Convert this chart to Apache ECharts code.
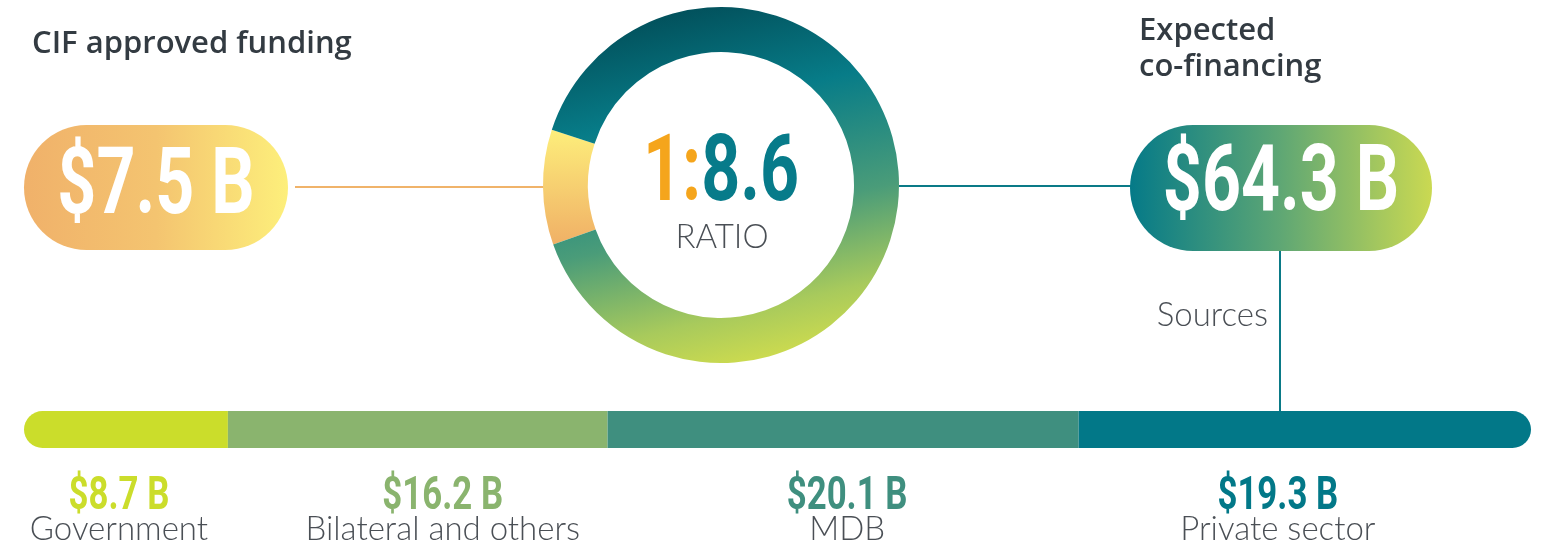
<!DOCTYPE html>
<html>
<head>
<meta charset="utf-8">
<script src="https://cdn.jsdelivr.net/npm/echarts@6/dist/echarts.min.js"></script>
<style>
  html, body { margin: 0; padding: 0; background: #fff; }
  #chart { width: 1550px; height: 546px; }
</style>
</head>
<body>
<div id="chart"></div>
<script>
// CIF funding vs expected co-financing (billions USD)
const cifFunding = 7.5;
const coFinancing = 64.3;
const ratioText = '8.6';
const sourceNames = ['Government', 'Bilateral and others', 'MDB', 'Private sector'];
const sourceValues = [8.7, 16.2, 20.1, 19.3];
const sourceColors = ['#cbdd2b', '#8ab46e', '#3f8f7f', '#027888'];

var dom = document.querySelector('#chart');
var myChart = echarts.init(dom);

var total = sourceValues.reduce((a, b) => a + b, 0);
var starts = [];
var acc = 0;
sourceValues.forEach(v => { starts.push(acc); acc += v; });
// label nudges, the reference doesn't centre every label on its segment
var labelShift = [-7, 25, 4, -27];

var condensed = 0.74;
var bigFont = 'bold 92px Roboto';
var lightFont = '300 33px Lato';
var titleFont = '600 31px "Open Sans"';

var barSeries = sourceValues.map((v, i) => ({
    type: 'bar',
    name: sourceNames[i],
    stack: 'src',
    barWidth: 37,
    silent: true,
    itemStyle: {
        color: sourceColors[i],
        borderRadius: i === 0 ? [19, 0, 0, 19] : (i === sourceValues.length - 1 ? [0, 19, 19, 0] : 0)
    },
    data: [v]
}));

const option = {
    animation: false,
    grid: { left: 24, right: 19, top: 411, height: 37 },
    xAxis: { type: 'value', min: 0, max: total, show: false },
    yAxis: { type: 'category', data: ['Sources'], show: false },
    series: [
        ...barSeries,
        {
            type: 'custom',
            silent: true,
            data: sourceValues.map((v, i) => [starts[i] + v / 2, 0, i]),
            renderItem: function (params, api) {
                var i = api.value(2);
                var p = api.coord([api.value(0), api.value(1)]);
                var x = p[0] + labelShift[i];
                return {
                    type: 'group',
                    children: [
                        {
                            type: 'text', x: x, y: p[1] + 68, scaleX: condensed,
                            style: {
                                text: '$' + sourceValues[i].toFixed(1) + ' B',
                                fill: sourceColors[i],
                                font: 'bold 47px Roboto',
                                align: 'center', textAlign: 'center',
                                verticalAlign: 'middle', textVerticalAlign: 'middle'
                            }
                        },
                        {
                            type: 'text', x: x, y: p[1] + 100,
                            style: {
                                text: sourceNames[i],
                                fill: '#4a4f55',
                                font: lightFont,
                                align: 'center', textAlign: 'center',
                                verticalAlign: 'middle', textVerticalAlign: 'middle'
                            }
                        }
                    ]
                };
            }
        },
        {
            type: 'pie',
            silent: true,
            center: [721, 185],
            radius: [133, 178],
            startAngle: 199.5,
            label: { show: false },
            labelLine: { show: false },
            data: [
                {
                    value: cifFunding, name: 'CIF approved funding',
                    itemStyle: {
                        color: { type: 'linear', x: 0, y: 0, x2: 0, y2: 1,
                            colorStops: [{ offset: 0, color: '#fdee7b' }, { offset: 1, color: '#f0b066' }] }
                    }
                },
                {
                    value: coFinancing, name: 'Expected co-financing',
                    itemStyle: {
                        color: { type: 'linear', x: 0.38, y: 0, x2: 0.62, y2: 1,
                            colorStops: [
                                { offset: 0, color: '#02505b' },
                                { offset: 0.28, color: '#077c88' },
                                { offset: 0.6, color: '#4a9c79' },
                                { offset: 0.85, color: '#a8ca5c' },
                                { offset: 1, color: '#cfdc4e' }
                            ] }
                    }
                }
            ]
        }
    ],
    graphic: [
        // titles
        { type: 'text', left: 32, top: 29, style: { text: 'CIF approved funding', fill: '#333b42', font: titleFont } },
        { type: 'text', left: 1139, top: 13, style: { text: 'Expected\nco-financing', fill: '#333b42', font: titleFont, lineHeight: 36 } },
        // connector lines
        { type: 'line', silent: true, shape: { x1: 295, y1: 187, x2: 544, y2: 187 }, style: { stroke: '#f0b36a', lineWidth: 2 } },
        { type: 'line', silent: true, shape: { x1: 899, y1: 186, x2: 1131, y2: 186 }, style: { stroke: '#0a7a87', lineWidth: 2 } },
        { type: 'line', silent: true, shape: { x1: 1280, y1: 250, x2: 1280, y2: 412 }, style: { stroke: '#0a7a87', lineWidth: 2 } },
        // pills
        {
            type: 'rect', silent: true, shape: { x: 24, y: 125, width: 264, height: 125, r: 62.5 },
            style: { fill: { type: 'linear', x: 0, y: 0, x2: 1, y2: 0,
                colorStops: [{ offset: 0, color: '#f0b16a' }, { offset: 0.5, color: '#f4c470' }, { offset: 1, color: '#fdef7b' }] } }
        },
        {
            type: 'text', x: 156, y: 190, scaleX: condensed,
            style: { text: '$' + cifFunding.toFixed(1) + ' B', fill: '#fff', font: bigFont,
                align: 'center', textAlign: 'center', verticalAlign: 'middle', textVerticalAlign: 'middle' }
        },
        {
            type: 'rect', silent: true, shape: { x: 1130, y: 125, width: 302, height: 126, r: 63 },
            style: { fill: { type: 'linear', x: 0, y: 0, x2: 1, y2: 0,
                colorStops: [{ offset: 0, color: '#057a88' }, { offset: 0.5, color: '#5fa774' }, { offset: 1, color: '#cad952' }] } }
        },
        {
            type: 'text', x: 1281, y: 187, scaleX: condensed,
            style: { text: '$' + coFinancing.toFixed(1) + ' B', fill: '#fff', font: bigFont,
                align: 'center', textAlign: 'center', verticalAlign: 'middle', textVerticalAlign: 'middle' }
        },
        // ratio in the ring
        {
            type: 'text', x: 721, y: 177, scaleX: condensed,
            style: {
                text: '{a|1:}{b|' + ratioText + '}',
                font: bigFont,
                align: 'center', textAlign: 'center', verticalAlign: 'middle', textVerticalAlign: 'middle',
                rich: {
                    a: { fill: '#f5a51c', font: bigFont },
                    b: { fill: '#077b8a', font: bigFont }
                }
            }
        },
        {
            type: 'text', x: 722, y: 237,
            style: { text: 'RATIO', fill: '#4a4f55', font: lightFont,
                align: 'center', textAlign: 'center', verticalAlign: 'middle', textVerticalAlign: 'middle' }
        },
        {
            type: 'text', x: 1268, y: 315,
            style: { text: 'Sources', fill: '#4a4f55', font: lightFont,
                align: 'right', textAlign: 'right', verticalAlign: 'middle', textVerticalAlign: 'middle' }
        }
    ]
};
myChart.setOption(option);
</script>
</body>
</html>
